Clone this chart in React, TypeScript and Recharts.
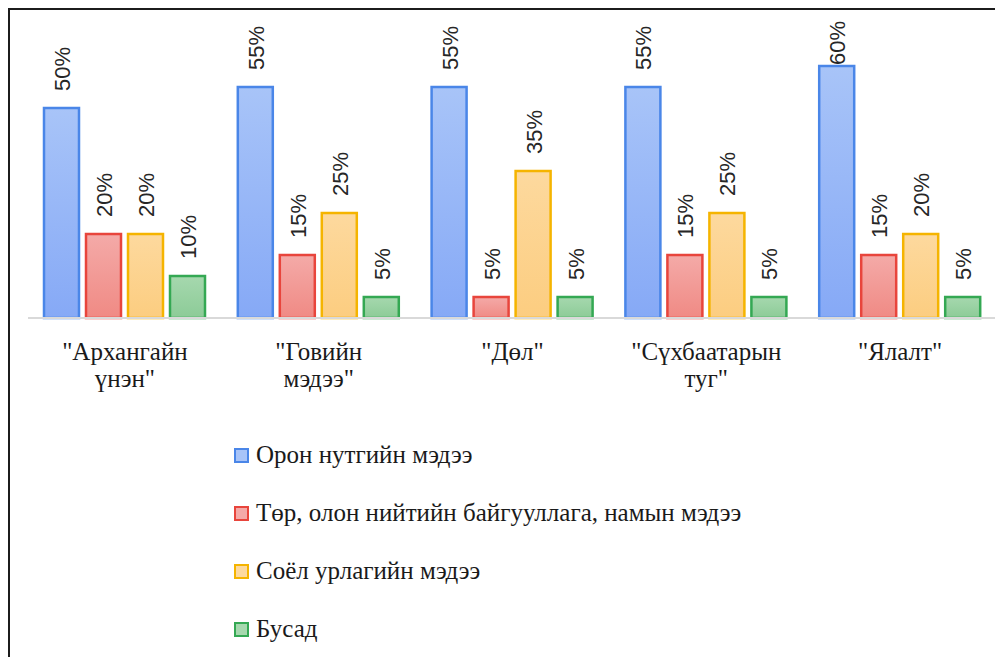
import { BarChart, Bar, XAxis, YAxis, Legend, LabelList } from 'recharts'

const categories = ['"Архангайн үнэн"', '"Говийн мэдээ"', '"Дөл"', '"Сүхбаатарын туг"', '"Ялалт"']
const seriesNames = [
    'Орон нутгийн мэдээ',
    'Төр, олон нийтийн байгууллага, намын мэдээ',
    'Соёл урлагийн мэдээ',
    'Бусад',
]
const localNews = [0.5, 0.55, 0.55, 0.55, 0.6]
const govNews = [0.2, 0.15, 0.05, 0.15, 0.15]
const cultureNews = [0.2, 0.25, 0.35, 0.25, 0.2]
const otherNews = [0.1, 0.05, 0.05, 0.05, 0.05]

const data = categories.map((name, i) => ({
    name,
    s0: localNews[i],
    s1: govNews[i],
    s2: cultureNews[i],
    s3: otherNews[i],
}))

const strokes = ['#4a86e8', '#e8453c', '#f5b400', '#34a853']
const gradTop = ['#a8c4f8', '#f4aaa8', '#fdd99e', '#a6d8ae']
const gradBottom = ['#86a9f6', '#f08a84', '#fccd80', '#8ccb97']

const SERIF_FONT = "'Liberation Serif', Tinos"

const RotatedLabel = (props: any) => {
    const { x, y, width, value } = props
    const cx = x + width / 2 + 1
    const start = Math.max(y - 17, 55)
    return (
        <text
            transform={`translate(${cx},${start}) rotate(-90)`}
            textAnchor="start"
            dominantBaseline="central"
            fontFamily="'Liberation Sans'"
            fontSize={22}
            fill="#262626"
        >
            {Math.round(value * 100) + '%'}
        </text>
    )
}

const CategoryTick = (props: any) => {
    const { x, y, payload } = props
    const lines = String(payload.value).split(' ')
    return (
        <text x={x} y={y} textAnchor="middle" fontFamily={SERIF_FONT} fontSize={25} fill="#1a1a1a">
            {lines.map((l, i) => (
                <tspan key={i} x={x} dy={i === 0 ? 42 : 27}>{l}</tspan>
            ))}
        </text>
    )
}

const LegendBox = () => (
    <div style={{ height: 232, fontFamily: SERIF_FONT, fontSize: 25, color: '#1a1a1a' }}>
        {seriesNames.map((n, i) => (
            <div key={n} style={{ height: 58, display: 'flex', alignItems: 'center' }}>
                <span
                    style={{
                        display: 'inline-block',
                        width: 11,
                        height: 11,
                        border: `2px solid ${strokes[i]}`,
                        background: gradTop[i],
                        marginRight: 7,
                    }}
                />
                <span>{n}</span>
            </div>
        ))}
    </div>
)

export default function App () {
    const keys = ['s0', 's1', 's2', 's3']
    return (
        <div style={{ width: 993, height: 660, borderLeft: '2px solid #1c1c1c', borderTop: '2px solid #1c1c1c', background: '#fff' }}>
            <BarChart
                width={993}
                height={647}
                data={data}
                margin={{ top: 14, right: 6, left: 18, bottom: 17 }}
                barSize={35}
                barGap={7}
            >
                <defs>
                    {keys.map((k, i) => (
                        <linearGradient key={k} id={'grad' + k} x1="0" y1="0" x2="0" y2="1">
                            <stop offset="0%" stopColor={gradTop[i]} />
                            <stop offset="100%" stopColor={gradBottom[i]} />
                        </linearGradient>
                    ))}
                </defs>
                <XAxis
                    dataKey="name"
                    height={90}
                    tickLine={false}
                    tickSize={0}
                    tickMargin={0}
                    axisLine={{ stroke: '#d9d9d9', strokeWidth: 2 }}
                    tick={(p: any) => <CategoryTick {...p} />}
                    interval={0}
                />
                <YAxis hide domain={[0, 0.7]} />
                {keys.map((k, i) => (
                    <Bar
                        key={k}
                        dataKey={k}
                        name={seriesNames[i]}
                        fill={`url(#grad${k})`}
                        stroke={strokes[i]}
                        strokeWidth={2.5}
                        isAnimationActive={false}
                    >
                        <LabelList dataKey={k} content={(p: any) => <RotatedLabel {...p} />} />
                    </Bar>
                ))}
                <Legend
                    verticalAlign="bottom"
                    align="left"
                    layout="horizontal"
                    content={() => <LegendBox />}
                    wrapperStyle={{ top: 416, left: 224, width: 700 }}
                />
            </BarChart>
        </div>
    )
}
